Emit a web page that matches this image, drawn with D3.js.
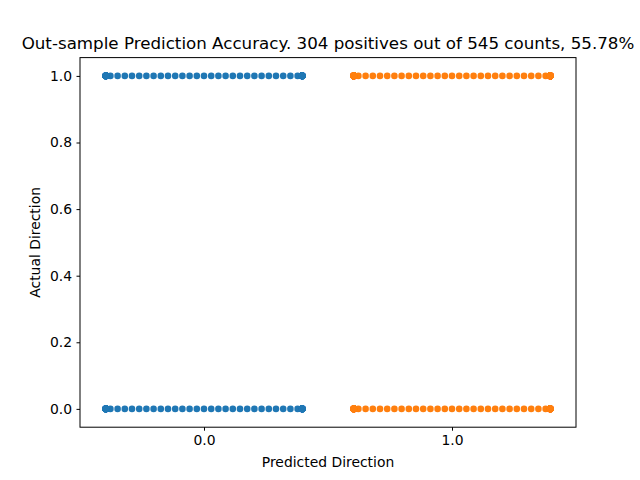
<!DOCTYPE html>
<html><head><meta charset="utf-8">
<script src="https://cdn.jsdelivr.net/npm/d3@7"></script>
<style>body{margin:0;background:#fff}svg{font-family:"DejaVu Sans",sans-serif}</style>
</head><body><svg id="c" width="640" height="480"></svg>
<script>
const categories = ["0.0", "1.0"];
const actualValues = [0, 1];
// counts per predicted category: [actual 0, actual 1]
const countsPred0 = [120, 110];
const countsPred1 = [131, 184];
const yTicks = [0.0, 0.2, 0.4, 0.6, 0.8, 1.0];
const colors = ["#1f77b4", "#ff7f0e"];
const title = "Out-sample Prediction Accuracy. 304 positives out of 545 counts, 55.78%";

const svg = d3.select("#c");
const L = 80, R = 576, T = 57.6, B = 427.2;
const x = d3.scaleLinear().domain([-0.5, 1.5]).range([L, R]);
const y = d3.scaleLinear().domain([-0.055, 1.055]).range([B, T]);

const groups = [countsPred0, countsPred1];
const d = 7.2, r = 3.3;
const half = 0.4 * (x(1) - x(0));
groups.forEach((counts, ci) => {
  counts.forEach((n, ai) => {
    const pts = [];
    for (let i = 0; i < n; i++) {
      const k = Math.ceil(i / 2) * (i % 2 ? 1 : -1);
      let off = k * d;
      off = Math.max(-half + 1, Math.min(half - 1, off));
      pts.push(off);
    }
    svg.append("g").selectAll("circle").data(pts).join("circle")
      .attr("cx", o => x(ci) + o)
      .attr("cy", y(actualValues[ai]))
      .attr("r", r)
      .attr("fill", colors[ci]);
  });
});

svg.append("rect").attr("x", L).attr("y", T).attr("width", R - L).attr("height", B - T)
  .attr("fill", "none").attr("stroke", "#000").attr("stroke-width", 1);

const xa = svg.append("g").attr("transform", `translate(0,${B})`)
  .call(d3.axisBottom(x).tickValues([0, 1]).tickFormat((v, i) => categories[i]).tickSize(3.5).tickPadding(4.5));
const ya = svg.append("g").attr("transform", `translate(${L},0)`)
  .call(d3.axisLeft(y).tickValues(yTicks).tickFormat(d3.format(".1f")).tickSize(3.5).tickPadding(4.5));
[xa, ya].forEach(a => {
  a.select(".domain").remove();
  a.selectAll("text").attr("font-size", 13.9).attr("font-family", "DejaVu Sans").attr("fill", "#000");
  a.selectAll("line").attr("stroke", "#000");
});

svg.append("text").attr("x", (L + R) / 2).attr("y", 467).attr("text-anchor", "middle")
  .attr("font-size", 13.9).text("Predicted Direction");
svg.append("text").attr("transform", `translate(40,${(T + B) / 2}) rotate(-90)`).attr("text-anchor", "middle")
  .attr("font-size", 13.9).text("Actual Direction");
svg.append("text").attr("x", (L + R) / 2).attr("y", 49).attr("text-anchor", "middle")
  .attr("font-size", 16.7).text(title);
</script></body></html>
